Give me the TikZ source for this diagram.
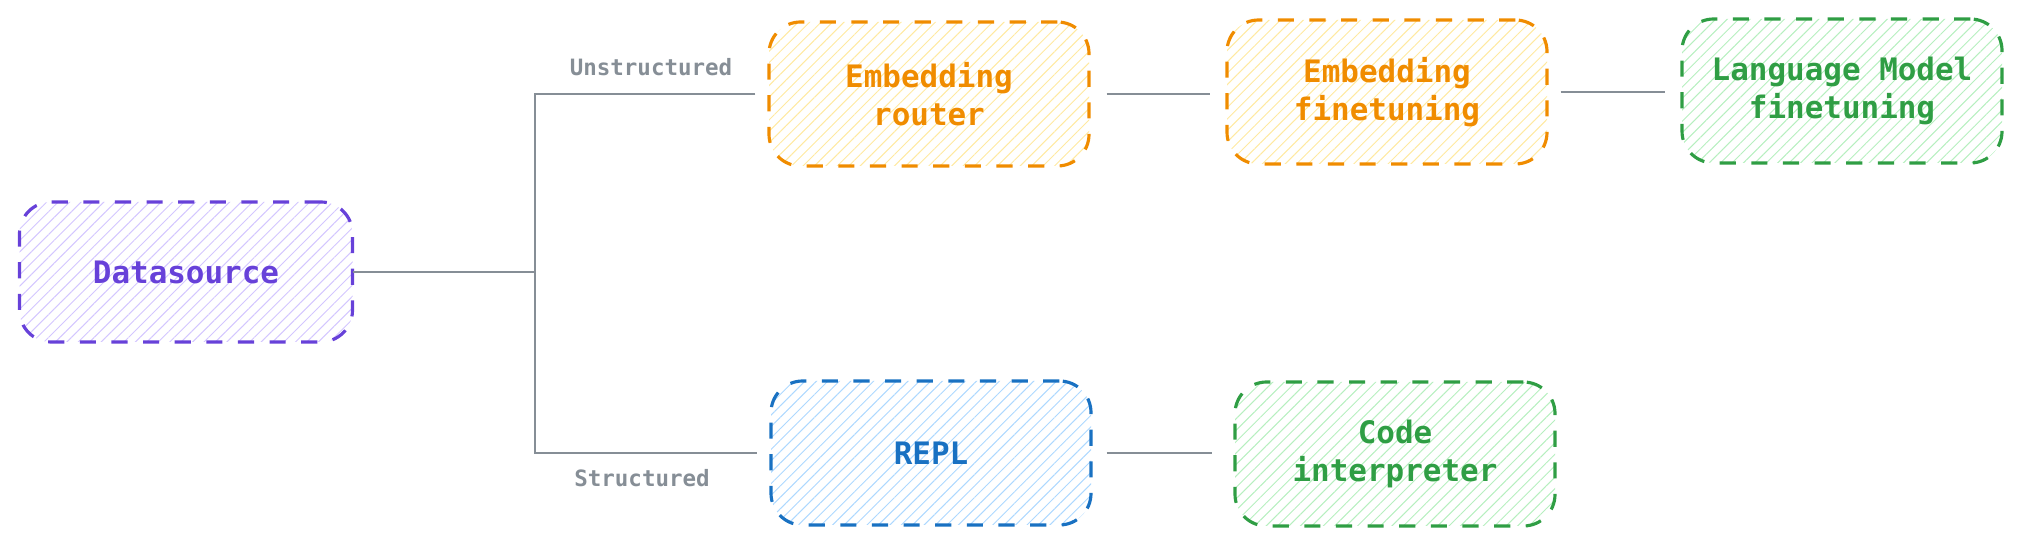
\documentclass[tikz,border=0pt]{standalone}
\usepackage{fontspec}
\setmonofont{DejaVu Sans Mono}
\usetikzlibrary{patterns.meta}
\definecolor{violetline}{HTML}{6741D9}
\definecolor{violetfill}{HTML}{D3C6FF}
\definecolor{orangeline}{HTML}{F08C00}
\definecolor{orangefill}{HTML}{FFE9A0}
\definecolor{blueline}{HTML}{1971C2}
\definecolor{bluefill}{HTML}{ADD8FF}
\definecolor{greenline}{HTML}{2F9E44}
\definecolor{greenfill}{HTML}{B6EFBF}
\definecolor{wiregray}{HTML}{868E96}
\tikzset{
  box/.style={rounded corners=9pt, line width=0.9pt, dash pattern=on 4.6pt off 4.4pt,
    minimum width=3.2cm, minimum height=1.44cm, align=center,
    font=\ttfamily\bfseries\fontsize{8.8}{11}\selectfont},
  hatch/.style={pattern={Lines[angle=45,distance=2.3pt,line width=0.28pt]}, pattern color=#1},
  wire/.style={draw=wiregray, line width=0.6pt},
  tag/.style={text=wiregray, font=\ttfamily\bfseries\fontsize{6.4}{8}\selectfont}
}
\begin{document}
\begin{tikzpicture}
\useasboundingbox (0,0) rectangle (20.21,5.46);
% boxes
\node[box, draw=violetline, text=violetline, hatch=violetfill, minimum width=3.33cm, minimum height=1.40cm] (ds) at (1.86,2.74) {Datasource};
\node[box, draw=orangeline, text=orangeline, hatch=orangefill] (router) at (9.29,4.52) {Embedding\\router};
\node[box, draw=orangeline, text=orangeline, hatch=orangefill] (eft) at (13.87,4.54) {Embedding\\finetuning};
\node[box, draw=greenline, text=greenline, hatch=greenfill] (lmft) at (18.42,4.55) {Language Model\\finetuning};
\node[box, draw=blueline, text=blueline, hatch=bluefill] (repl) at (9.31,0.93) {REPL};
\node[box, draw=greenline, text=greenline, hatch=greenfill] (code) at (13.95,0.92) {Code\\interpreter};
% branch
\coordinate (jn) at (5.35,2.74);
\draw[wire] (ds.east) -- (jn);
\draw[wire, shorten <=0.12cm, shorten >=0.12cm] (router.west) -| (jn) |- (repl.west);
\node[tag] (unstr) at (6.51,4.79) {Unstructured};
\node[tag] (str) at (6.42,0.68) {Structured};
% links
\draw[wire, shorten <=0.16cm, shorten >=0.15cm] (router.east) -- (router.east -| eft.west);
\draw[wire, shorten <=0.12cm, shorten >=0.15cm] (eft.east) -- (eft.east -| lmft.west);
\draw[wire, shorten <=0.14cm, shorten >=0.21cm] (repl.east) -- (repl.east -| code.west);
\end{tikzpicture}
\end{document}
